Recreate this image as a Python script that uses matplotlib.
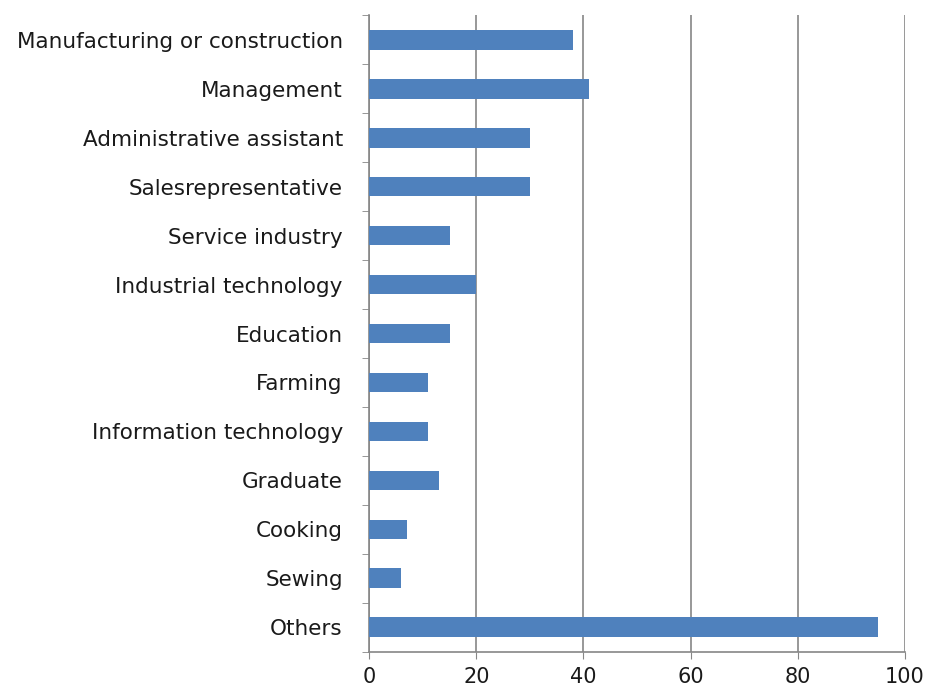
import numpy as np
from matplotlib import pyplot as plt

categories = ["Manufacturing or construction", "Management", "Administrative assistant",
              "Salesrepresentative", "Service industry", "Industrial technology",
              "Education", "Farming", "Information technology", "Graduate",
              "Cooking", "Sewing", "Others"]
values = [38, 41, 30, 30, 15, 20, 15, 11, 11, 13, 7, 6, 95]
x_ticks = [0, 20, 40, 60, 80, 100]

plt.rcParams['font.family'] = ['DejaVu Sans']

fig = plt.figure(figsize=(9.3, 6.97), dpi=100)
ax = fig.add_axes([0.397, 0.065, 0.576, 0.913])

pos = np.arange(len(categories))
ax.barh(pos, values, height=0.4, color="#4F81BD", zorder=3)

ax.set_xlim(0, 100)
ax.set_ylim(len(categories) - 0.5, -0.5)
ax.set_xticks(x_ticks)
ax.set_xticklabels([str(t) for t in x_ticks], fontsize=15)
ax.set_yticks(pos)
ax.set_yticklabels(categories, fontsize=15.5, color="#1a1a1a")
ax.set_yticks(np.arange(len(categories) + 1) - 0.5, minor=True)

ax.tick_params(axis="y", which="major", length=0, pad=19)
ax.tick_params(axis="y", which="minor", length=5, color="#868686")
ax.tick_params(axis="x", length=5, color="#868686", pad=6, labelcolor="#1a1a1a")

ax.grid(axis="x", color="#868686", linewidth=1.2, zorder=0)
for s in ["top", "right"]:
    ax.spines[s].set_visible(False)
for s in ["left", "bottom"]:
    ax.spines[s].set_color("#868686")
    ax.spines[s].set_linewidth(1.2)

plt.savefig("out.png")
